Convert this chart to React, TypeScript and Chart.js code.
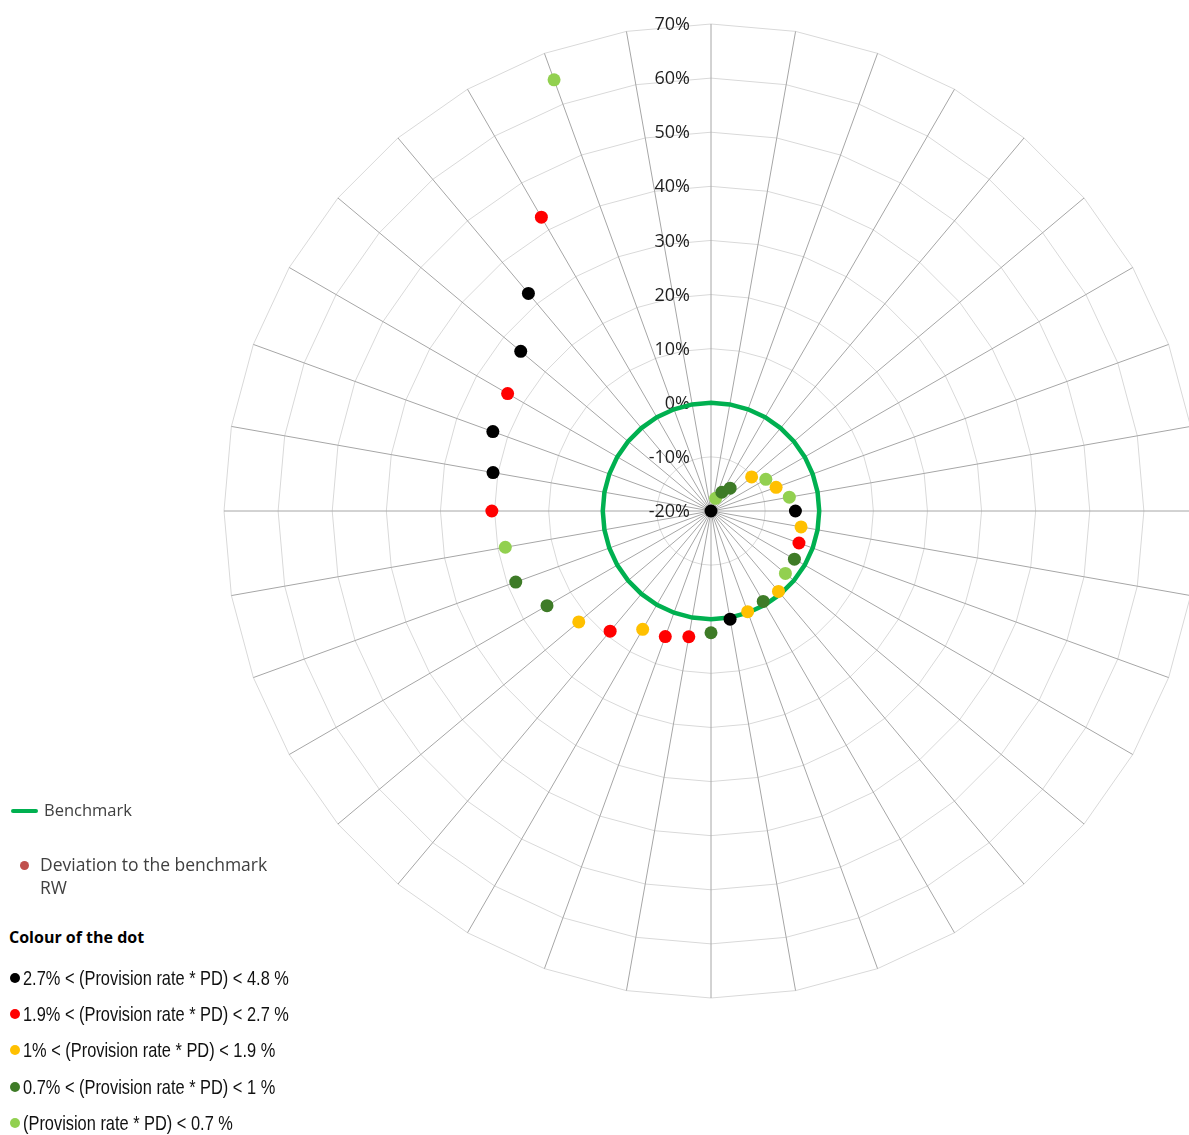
import React, { useEffect, useLayoutEffect, useRef, useState } from "react";
import { Chart, registerables } from "chart.js";

Chart.register(...registerables);

// ---- data ----
const CATEGORIES = [
  "1", "2", "3", "4", "5", "6", "7", "8", "9", "10", "11", "12",
  "13", "14", "15", "16", "17", "18", "19", "20", "21", "22", "23", "24",
  "25", "26", "27", "28", "29", "30", "31", "32", "33", "34", "35", "36",
];

const BENCHMARK = [
  0, 0, 0, 0, 0, 0, 0, 0, 0, 0, 0, 0,
  0, 0, 0, 0, 0, 0, 0, 0, 0, 0, 0, 0,
  0, 0, 0, 0, 0, 0, 0, 0, 0, 0, 0, 0,
];

const DEVIATION: (number | null)[] = [
  -20, null, -17.5, -16, -14.5, -10.2, -8.3, -7.2, -5.3, -4.4, -3.1, -2.7,
  -2.2, -2.05, -0.6, -0.7, -0.2, 0.3, 2.5, 3.6, 4.7, 5.25, 9.0, 11.9,
  15.0, 18.4, 18.6, 20.5, 20.9, 22.9, 23.4, 25.9, 32.5, 42.7, 64.8, null,
];

// colour class of each dot
const DOT_CLASS = [
  "k", "k", "lg", "dg", "dg", "y", "lg", "y", "lg", "k", "y", "r",
  "dg", "lg", "y", "dg", "y", "k", "dg", "r", "r", "y", "r", "y",
  "dg", "dg", "lg", "r", "k", "k", "r", "k", "k", "r", "lg", "k",
];

const TICK_VALUES = [-20, -10, 0, 10, 20, 30, 40, 50, 60, 70];

const LEGEND_CLASSES = ["k", "r", "y", "dg", "lg"];
const LEGEND_TEXTS = [
  "2.7% < (Provision rate * PD) < 4.8 %",
  "1.9% < (Provision rate * PD) < 2.7 %",
  "1% < (Provision rate * PD) < 1.9 %",
  "0.7% < (Provision rate * PD) < 1 %",
  "(Provision rate * PD) < 0.7 %",
];

// ---- styles ----
const PALETTE: Record<string, string> = {
  k: "#000000",
  r: "#FF0000",
  y: "#FFC000",
  dg: "#3E7B27",
  lg: "#92D050",
};
const BENCH_COLOR = "#00B050";
const SANS = "'Open Sans', 'Noto Sans', sans-serif";
const NARROW = "'Liberation Sans Narrow', 'Liberation Sans', Arial, sans-serif";

const tickLabelPlugin = {
  id: "tickLabels",
  beforeDatasetsDraw(chart: any) {
    const s = chart.scales.r;
    const ctx = chart.ctx;
    ctx.save();
    ctx.font = `18px ${SANS}`;
    ctx.fillStyle = "#1f1f1f";
    ctx.textAlign = "right";
    ctx.textBaseline = "middle";
    for (const v of TICK_VALUES) {
      const d = s.getDistanceFromCenterForValue(v);
      ctx.fillText(`${v}%`, s.xCenter - 21, s.yCenter - d + 1);
    }
    ctx.restore();
  },
};

export default function App() {
  const canvasRef = useRef<HTMLCanvasElement | null>(null);
  const measureRef = useRef<HTMLSpanElement | null>(null);
  const [scaleX, setScaleX] = useState(1);

  useLayoutEffect(() => {
    if (measureRef.current) {
      const w = measureRef.current.offsetWidth;
      if (w > 0) setScaleX(266 / w);
    }
  }, []);

  useEffect(() => {
    if (!canvasRef.current) return;
    const chart = new Chart(canvasRef.current, {
      type: "radar",
      data: {
        labels: CATEGORIES,
        datasets: [
          {
            label: "Deviation to the benchmark RW",
            data: DEVIATION as any,
            showLine: false,
            pointRadius: 6.5,
            pointBorderWidth: 0,
            pointBackgroundColor: DOT_CLASS.map((c) => PALETTE[c]),
            pointBorderColor: DOT_CLASS.map((c) => PALETTE[c]),
            backgroundColor: "transparent",
            borderColor: "transparent",
            fill: false,
            order: 0,
          },
          {
            label: "Benchmark",
            data: BENCHMARK,
            borderColor: BENCH_COLOR,
            borderWidth: 4.5,
            pointRadius: 0,
            fill: false,
            backgroundColor: "transparent",
            order: 1,
          },
        ],
      },
      options: {
        responsive: false,
        animation: false,
        events: [],
        layout: { padding: 8 },
        plugins: {
          legend: { display: false },
          tooltip: { enabled: false },
        },
        scales: {
          r: {
            min: -20,
            max: 70,
            startAngle: 0,
            ticks: { display: false, stepSize: 10 },
            grid: { color: "#D9D9D9", lineWidth: 1, circular: false },
            angleLines: { color: "#A6A6A6", lineWidth: 1 },
            pointLabels: { display: false },
          },
        },
      },
      plugins: [tickLabelPlugin],
    });
    return () => chart.destroy();
  }, []);

  const legendTops = [978, 1014, 1050, 1087, 1123];

  return (
    <div
      style={{
        position: "fixed",
        left: 0,
        top: 0,
        width: 1189,
        height: 1135,
        overflow: "hidden",
        background: "#ffffff",
      }}
    >
      <canvas
        ref={canvasRef}
        width={990}
        height={990}
        style={{ position: "absolute", left: 216, top: 16, width: 990, height: 990 }}
      />

      {/* Benchmark legend */}
      <div
        style={{
          position: "absolute",
          left: 11,
          top: 809,
          width: 27,
          height: 4,
          borderRadius: 2,
          background: BENCH_COLOR,
        }}
      />
      <div
        style={{
          position: "absolute",
          left: 44,
          top: 800,
          lineHeight: "20px",
          fontSize: 16.5,
          fontFamily: SANS,
          color: "#404040",
          whiteSpace: "nowrap",
        }}
      >
        Benchmark
      </div>

      {/* Deviation legend */}
      <div
        style={{
          position: "absolute",
          left: 20,
          top: 861,
          width: 9,
          height: 9,
          borderRadius: "50%",
          background: "#C0504D",
        }}
      />
      <div
        style={{
          position: "absolute",
          left: 40,
          top: 853,
          lineHeight: "23px",
          fontSize: 17.5,
          fontFamily: SANS,
          color: "#404040",
          whiteSpace: "nowrap",
        }}
      >
        Deviation to the benchmark
        <br />
        RW
      </div>

      {/* Colour of the dot */}
      <div
        style={{
          position: "absolute",
          left: 9,
          top: 927,
          lineHeight: "20px",
          fontSize: 16,
          fontWeight: 700,
          fontFamily: SANS,
          color: "#000000",
          whiteSpace: "nowrap",
        }}
      >
        Colour of the dot
      </div>

      {LEGEND_TEXTS.map((t, i) => (
        <React.Fragment key={t}>
          <div
            style={{
              position: "absolute",
              left: 10,
              top: legendTops[i] - 5,
              width: 10,
              height: 10,
              borderRadius: "50%",
              background: PALETTE[LEGEND_CLASSES[i]],
            }}
          />
          <span
            ref={i === 0 ? measureRef : undefined}
            style={{
              position: "absolute",
              left: 23,
              top: legendTops[i] - 12,
              lineHeight: "24px",
              fontSize: 21,
              fontFamily: NARROW,
              color: "#111111",
              whiteSpace: "nowrap",
              transform: `scaleX(${scaleX})`,
              transformOrigin: "left center",
              display: "inline-block",
            }}
          >
            {t}
          </span>
        </React.Fragment>
      ))}
    </div>
  );
}
